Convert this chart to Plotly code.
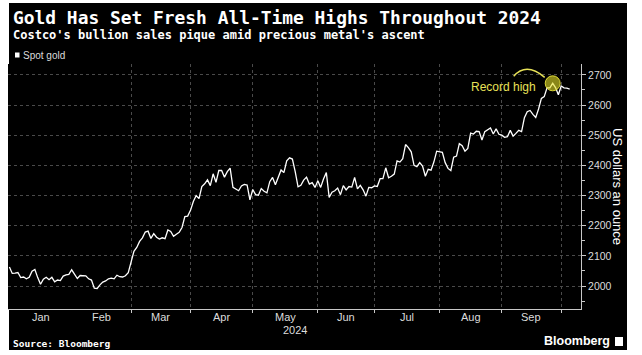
import pandas as pd
import plotly.graph_objects as go

# ---- data: spot gold, daily (weekdays), USD per ounce ----
jan = [2063, 2042, 2043, 2045, 2028, 2030, 2024, 2029, 2049, 2055, 2028, 2006, 2023, 2029,
       2021, 2029, 2014, 2020, 2018, 2033, 2037, 2039]
feb = [2054, 2039, 2025, 2035, 2035, 2034, 2024, 2020, 1993, 1992, 2004, 2013, 2017, 2024,
       2026, 2024, 2036, 2031, 2030, 2034, 2044]
mar = [2083, 2115, 2128, 2148, 2160, 2179, 2182, 2158, 2174, 2162, 2156, 2160, 2157, 2186,
       2181, 2165, 2172, 2178, 2194, 2230, 2232]
apr = [2251, 2280, 2300, 2290, 2330, 2339, 2352, 2333, 2372, 2344, 2383, 2383, 2361, 2379,
       2391, 2327, 2322, 2316, 2332, 2337, 2335, 2286]
may = [2320, 2303, 2301, 2323, 2314, 2309, 2346, 2360, 2336, 2358, 2385, 2376, 2415, 2425,
       2421, 2379, 2329, 2334, 2351, 2361, 2338, 2343, 2327]
jun = [2349, 2327, 2355, 2376, 2294, 2311, 2316, 2325, 2303, 2333, 2319, 2330, 2328, 2360,
       2322, 2334, 2319, 2298, 2327, 2326]
jul = [2332, 2330, 2356, 2356, 2392, 2359, 2364, 2371, 2415, 2411, 2422, 2469, 2459, 2445,
       2400, 2396, 2409, 2398, 2364, 2387, 2384, 2411, 2447]
aug = [2446, 2443, 2409, 2390, 2383, 2427, 2431, 2472, 2465, 2447, 2456, 2507, 2504, 2513,
       2512, 2484, 2512, 2518, 2524, 2504, 2521, 2503]
sep = [2500, 2493, 2495, 2516, 2497, 2506, 2516, 2512, 2558, 2578, 2582, 2569, 2559, 2587,
       2622, 2628, 2657, 2657, 2672, 2658, 2634]
oct_ = [2663, 2657, 2656, 2653]

month_names = ["Jan", "Feb", "Mar", "Apr", "May", "Jun", "Jul", "Aug", "Sep"]
grid_months = [3, 4, 5, 6, 7, 8, 9, 10]
year_label = "2024"
series_name = "Spot gold"
record_label = "Record high"

values = jan + feb + mar + apr + may + jun + jul + aug + sep + oct_
dates = pd.bdate_range("2024-01-02", periods=len(values))

# ---- layout geometry ----
W, H = 642, 355
L, R, T, B = 8, 61, 64, 46
PW, PH = W - L - R, H - T - B


def px_x(p):
    return (p - L) / PW


def px_y(p):
    return (H - B - p) / PH


YELLOW = "rgb(232,226,88)"
GRID = "#4a4a4a"
AXIS = "#c8c8c8"
TXT = "#dcdcdc"
SANS = "Liberation Sans, Arial, sans-serif"
MONO = "DejaVu Sans Mono, monospace"

fig = go.Figure()
fig.add_trace(go.Scatter(x=dates, y=values, mode="lines", name=series_name,
                         line=dict(color="white", width=1.3), showlegend=False,
                         hoverinfo="skip"))

imax = max(range(len(values)), key=lambda i: values[i])
rec_x = dates[imax].strftime("%Y-%m-%d")
rec_y = values[imax]
fig.add_trace(go.Scatter(x=[rec_x], y=[rec_y], mode="markers", showlegend=False,
                         marker=dict(size=15, color="rgba(230,225,40,0.6)",
                                     line=dict(color="rgba(235,230,60,0.9)", width=1)),
                         hoverinfo="skip"))

# month boundaries (first trading day of month) and mid-month label positions
first_idx = {}
for i, d in enumerate(dates):
    first_idx.setdefault(d.month, i)
grid_vals = [dates[first_idx[m]] for m in grid_months]

annotations = []
for k, name in enumerate(month_names):
    m = k + 1
    i0 = first_idx[m]
    i1 = first_idx.get(m + 1, len(dates) - 1)
    mid = dates[(i0 + i1) // 2]
    if (i0 + i1) % 2:
        mid = mid + pd.Timedelta(hours=12)
    annotations.append(dict(x=mid, y=px_y(316.5), xref="x", yref="paper", text=name,
                            showarrow=False, font=dict(family=SANS, size=11, color=TXT),
                            xanchor="center", yanchor="middle"))

annotations += [
    dict(x=px_x(295), y=px_y(330), xref="paper", yref="paper", text=year_label,
         showarrow=False, font=dict(family=SANS, size=11, color=TXT),
         xanchor="center", yanchor="middle"),
    dict(x=px_x(11), y=px_y(18), xref="paper", yref="paper", xanchor="left", yanchor="middle",
         text="<b>Gold Has Set Fresh All-Time Highs Throughout 2024</b>", showarrow=False,
         font=dict(family=MONO, size=17.9, color="white")),
    dict(x=px_x(11), y=px_y(35.5), xref="paper", yref="paper", xanchor="left", yanchor="middle",
         text="<b>Costco's bullion sales pique amid precious metal's ascent</b>", showarrow=False,
         font=dict(family=MONO, size=12, color="white")),
    dict(x=px_x(20.5), y=px_y(55), xref="paper", yref="paper", xanchor="left", yanchor="middle",
         text=series_name, showarrow=False, font=dict(family=SANS, size=10, color=TXT)),
    dict(x=px_x(11), y=px_y(343), xref="paper", yref="paper", xanchor="left", yanchor="middle",
         text="<b>Source: Bloomberg</b>", showarrow=False,
         font=dict(family=MONO, size=9.5, color="white")),
    dict(x=px_x(612), y=px_y(341), xref="paper", yref="paper", xanchor="right", yanchor="middle",
         text="<b>Bloomberg</b>", showarrow=False,
         font=dict(family=SANS, size=12.5, color="white")),
    dict(x=px_x(618), y=px_y(186), xref="paper", yref="paper", xanchor="center", yanchor="middle",
         text="US dollars an ounce", textangle=90, showarrow=False,
         font=dict(family=SANS, size=13, color="white")),
    dict(x=rec_x, y=rec_y, xref="x", yref="y", xanchor="right", yanchor="middle",
         xshift=-15, yshift=-4, text=record_label, showarrow=False,
         font=dict(family=SANS, size=12, color=YELLOW)),
]

shapes = [
    # black card
    dict(type="rect", xref="paper", yref="paper", layer="below",
         x0=px_x(9), x1=px_x(627), y0=px_y(350), y1=px_y(3),
         fillcolor="black", line=dict(width=0)),
    # legend swatch
    dict(type="rect", xref="paper", yref="paper",
         x0=px_x(15), x1=px_x(19.5), y0=px_y(57.5), y1=px_y(52.5),
         fillcolor="white", line=dict(width=0)),
    # Bloomberg mark
    dict(type="rect", xref="paper", yref="paper",
         x0=px_x(615), x1=px_x(623), y0=px_y(346), y1=px_y(337),
         fillcolor="white", line=dict(width=0)),
    # annotation arc
    dict(type="path", xref="x", yref="y", xsizemode="pixel", ysizemode="pixel",
         xanchor=rec_x, yanchor=rec_y, path="M -39,7 Q -26.5,21.5 -8,6",
         line=dict(color=YELLOW, width=1.5)),
]

fig.update_layout(
    width=W, height=H,
    margin=dict(l=L, r=R, t=T, b=B, pad=0),
    paper_bgcolor="white", plot_bgcolor="black",
    showlegend=False,
    annotations=annotations, shapes=shapes,
    xaxis=dict(type="date", range=["2024-01-01 12:00", "2024-10-10"],
               rangebreaks=[dict(bounds=["sat", "mon"])],
               tickmode="array", tickvals=grid_vals, showticklabels=False,
               ticks="outside", ticklen=3, tickcolor=AXIS, tickwidth=1,
               showgrid=True, gridcolor=GRID, griddash="dot", gridwidth=1,
               showline=True, linecolor=AXIS, linewidth=1, zeroline=False),
    yaxis=dict(side="right", range=[1924, 2736], tickmode="array", tickvals=list(range(2000, 2701, 100)),
               ticks="outside", ticklen=4, tickcolor=AXIS, tickwidth=1,
               minor=dict(tickmode="linear", tick0=1950, dtick=100, ticks="outside", ticklen=3,
                          tickcolor=AXIS, showgrid=False),
               showgrid=True, gridcolor=GRID, griddash="dot", gridwidth=1,
               showline=True, linecolor=AXIS, linewidth=1, zeroline=False,
               tickfont=dict(family=SANS, size=10.5, color=TXT)),
)

fig.write_html("out.html",
               config={"displayModeBar": False},
               post_script="document.body.style.margin='0px';"
                           "document.body.style.overflow='hidden';")
